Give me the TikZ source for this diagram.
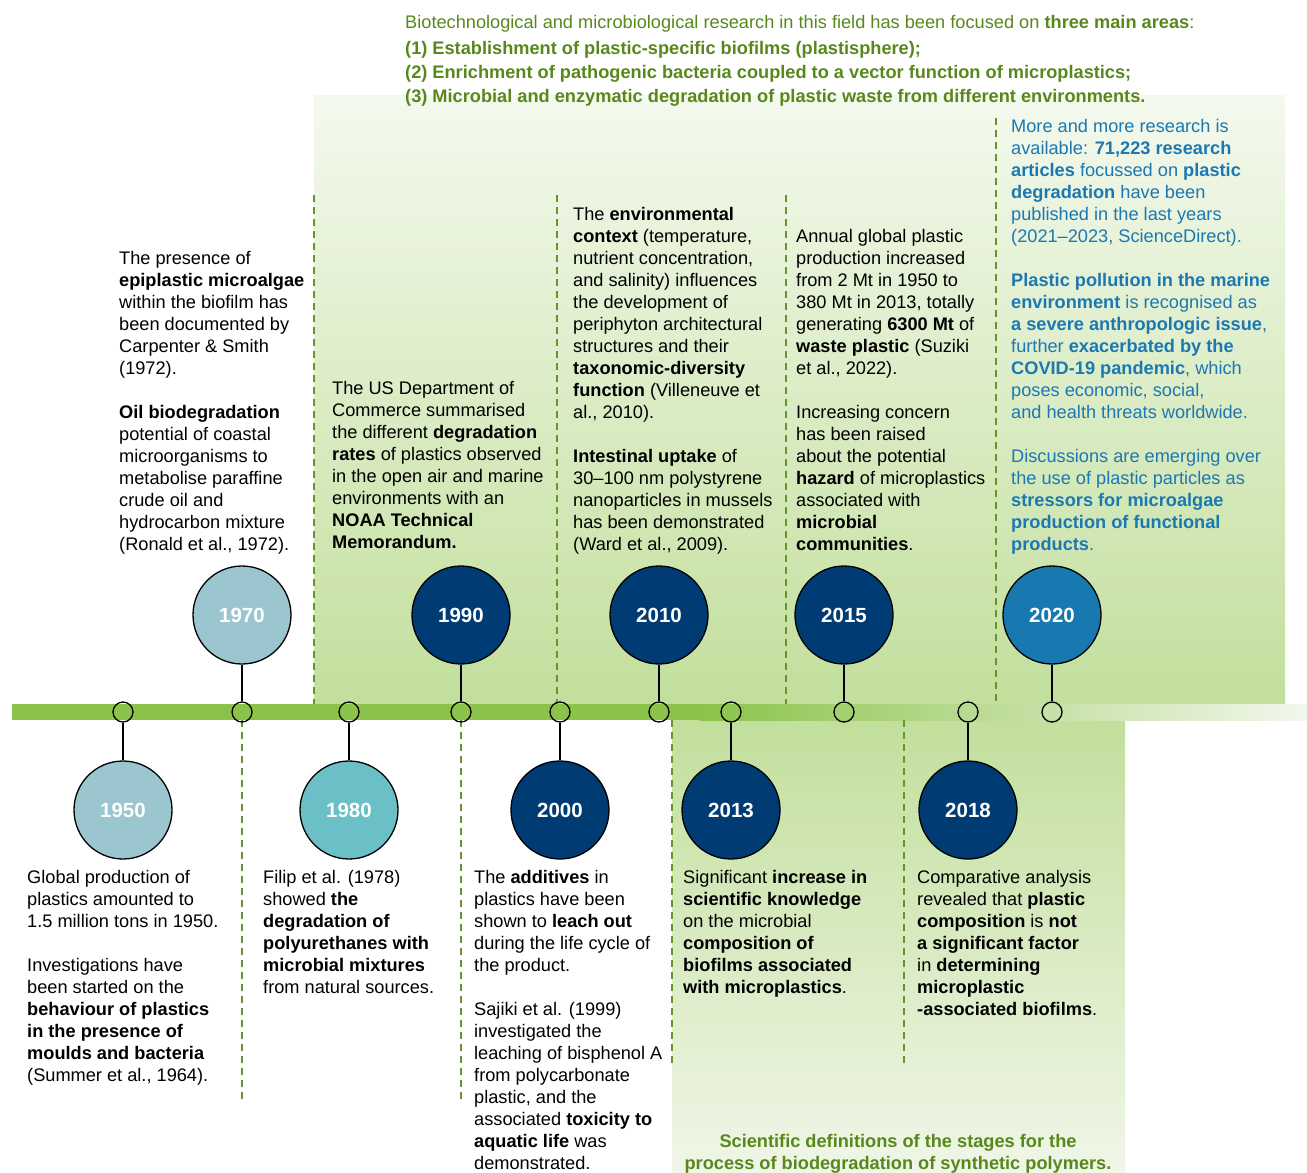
\documentclass[tikz,border=0pt]{standalone}
\usepackage{fontspec}
\setmainfont{Liberation Sans}
\definecolor{bargreen}{RGB}{139,195,74}
\definecolor{barend}{RGB}{242,247,236}
\definecolor{midgreen}{RGB}{194,223,156}
\definecolor{toplight}{RGB}{244,249,238}
\definecolor{botlight}{RGB}{240,246,232}
\definecolor{dgreen}{RGB}{104,148,44}
\definecolor{hdrgreen}{RGB}{88,136,28}
\definecolor{txtblue}{RGB}{28,120,178}
\definecolor{clight}{RGB}{156,198,207}
\definecolor{cteal}{RGB}{107,191,198}
\definecolor{cnavy}{RGB}{0,59,115}
\definecolor{cblue}{RGB}{24,120,176}
\begin{document}
\begin{tikzpicture}[x=1pt,y=-1pt,
  txt/.style={anchor=north west, inner sep=0pt, align=left, font=\fontsize{18.2}{22}\selectfont},
  yr/.style={circle, draw=black, line width=1.3pt, minimum size=98pt, inner sep=0pt, text=white, font=\fontsize{20.5}{24}\selectfont\bfseries},
  tick/.style={circle, draw=black, line width=1.3pt, minimum size=20pt, inner sep=0pt},
  conn/.style={line width=2pt, draw=black},
  dashln/.style={draw=dgreen, line width=1.6pt, dash pattern=on 7pt off 5pt}]
\useasboundingbox (0,0) rectangle (1307,1173);
% backgrounds
\shade[top color=toplight, bottom color=midgreen] (314,95) rectangle (1285,704);
\shade[top color=midgreen, bottom color=botlight] (672,720) rectangle (1125,1173);
% timeline bar
\fill[bargreen] (12,704) rectangle (700,720);
\shade[left color=bargreen, right color=barend] (699.5,704) rectangle (1307,720);
% dashed separators
\draw[dashln] (314,195) -- (314,704);
\draw[dashln] (557,195) -- (557,704);
\draw[dashln] (786,195) -- (786,704);
\draw[dashln] (996,118) -- (996,704);
\draw[dashln] (242,720) -- (242,1103);
\draw[dashln] (461,720) -- (461,1100);
\draw[dashln] (672,720) -- (672,1065);
\draw[dashln] (904,720) -- (904,1065);
% ticks
\node[tick] (d1950) at (123,712) {};
\node[tick] (d1970) at (242,712) {};
\node[tick] (d1980) at (349,712) {};
\node[tick] (d1990) at (461,712) {};
\node[tick] (d2000) at (560,712) {};
\node[tick] (d2010) at (659,712) {};
\node[tick] (d2013) at (731,712) {};
\node[tick] (d2015) at (844,712) {};
\node[tick] (d2018) at (968,712) {};
\node[tick] (d2020) at (1052,712) {};
% year circles
\node[yr, fill=clight] (y1950) at (123,810) {1950};
\node[yr, fill=clight] (y1970) at (242,615) {1970};
\node[yr, fill=cteal] (y1980) at (349,810) {1980};
\node[yr, fill=cnavy] (y1990) at (461,615) {1990};
\node[yr, fill=cnavy] (y2000) at (560,810) {2000};
\node[yr, fill=cnavy] (y2010) at (659,615) {2010};
\node[yr, fill=cnavy] (y2013) at (731,810) {2013};
\node[yr, fill=cnavy] (y2015) at (844,615) {2015};
\node[yr, fill=cnavy] (y2018) at (968,810) {2018};
\node[yr, fill=cblue] (y2020) at (1052,615) {2020};
\foreach \y in {1950,1970,1980,1990,2000,2010,2013,2015,2018,2020}
  \draw[conn] (y\y) -- (d\y);
% header
\node[txt, text=hdrgreen, font=\fontsize{18.2}{24}\selectfont] (hdr) at (405,11) {\strut Biotechnological and microbiological research in this field has been focused on \textbf{three main areas}:\\[2pt]
\textbf{(1) Establishment of plastic-specific biofilms (plastisphere);}\\
\textbf{(2) Enrichment of pathogenic bacteria coupled to a vector function of microplastics;}\\
\textbf{(3) Microbial and enzymatic degradation of plastic waste from different environments.}};
% upper texts
\node[txt] (t1970) at (119,249) {\strut The presence of\\
\textbf{epiplastic microalgae}\\
within the biofilm has\\
been documented by\\
Carpenter \& Smith\\
(1972).\\[22pt]
\textbf{Oil biodegradation}\\
potential of coastal\\
microorganisms to\\
metabolise paraffine\\
crude oil and\\
hydrocarbon mixture\\
(Ronald et al., 1972).};
\node[txt] (t1990) at (332,379) {\strut The US Department of\\
Commerce summarised\\
the different \textbf{degradation}\\
\textbf{rates} of plastics observed\\
in the open air and marine\\
environments with an\\
\textbf{NOAA Technical}\\
\textbf{Memorandum.}};
\node[txt] (t2010) at (573,205) {\strut The \textbf{environmental}\\
\textbf{context} (temperature,\\
nutrient concentration,\\
and salinity) influences\\
the development of\\
periphyton architectural\\
structures and their\\
\textbf{taxonomic-diversity}\\
\textbf{function} (Villeneuve et\\
al., 2010).\\[22pt]
\textbf{Intestinal uptake} of\\
30--100 nm polystyrene\\
nanoparticles in mussels\\
has been demonstrated\\
(Ward et al., 2009).};
\node[txt] (t2015) at (796,227) {\strut Annual global plastic\\
production increased\\
from 2 Mt in 1950 to\\
380 Mt in 2013, totally\\
generating \textbf{6300 Mt} of\\
\textbf{waste plastic} (Suziki\\
et al., 2022).\\[22pt]
Increasing concern\\
has been raised\\
about the potential\\
\textbf{hazard} of microplastics\\
associated with\\
\textbf{microbial}\\
\textbf{communities}.};
\node[txt, text=txtblue] (t2020) at (1011,117) {\strut More and more research is\\
available: \textbf{71,223 research}\\
\textbf{articles} focussed on \textbf{plastic}\\
\textbf{degradation} have been\\
published in the last years\\
(2021--2023, ScienceDirect).\\[22pt]
\textbf{Plastic pollution in the marine}\\
\textbf{environment} is recognised as\\
\textbf{a severe anthropologic issue},\\
further \textbf{exacerbated by the}\\
\textbf{COVID-19 pandemic}, which\\
poses economic, social,\\
and health threats worldwide.\\[22pt]
Discussions are emerging over\\
the use of plastic particles as\\
\textbf{stressors for microalgae}\\
\textbf{production of functional}\\
\textbf{products}.};
% lower texts
\node[txt] (t1950) at (27,868) {\strut Global production of\\
plastics amounted to\\
1.5 million tons in 1950.\\[22pt]
Investigations have\\
been started on the\\
\textbf{behaviour of plastics}\\
\textbf{in the presence of}\\
\textbf{moulds and bacteria}\\
(Summer et al., 1964).};
\node[txt] (t1980) at (263,868) {\strut Filip et al. (1978)\\
showed \textbf{the}\\
\textbf{degradation of}\\
\textbf{polyurethanes with}\\
\textbf{microbial mixtures}\\
from natural sources.};
\node[txt] (t2000) at (474,868) {\strut The \textbf{additives} in\\
plastics have been\\
shown to \textbf{leach out}\\
during the life cycle of\\
the product.\\[22pt]
Sajiki et al. (1999)\\
investigated the\\
leaching of bisphenol A\\
from polycarbonate\\
plastic, and the\\
associated \textbf{toxicity to}\\
\textbf{aquatic life} was\\
demonstrated.};
\node[txt] (t2013) at (683,868) {\strut Significant \textbf{increase in}\\
\textbf{scientific knowledge}\\
on the microbial\\
\textbf{composition of}\\
\textbf{biofilms associated}\\
\textbf{with microplastics}.};
\node[txt] (t2018) at (917,868) {\strut Comparative analysis\\
revealed that \textbf{plastic}\\
\textbf{composition} is \textbf{not}\\
\textbf{a significant factor}\\
in \textbf{determining}\\
\textbf{microplastic}\\
\textbf{-associated biofilms}.};
\node[anchor=north, inner sep=0pt, align=center, text=hdrgreen, font=\fontsize{18.2}{22}\selectfont\bfseries] (cap) at (898,1132) {\strut Scientific definitions of the stages for the\\
process of biodegradation of synthetic polymers.};
\end{tikzpicture}
\end{document}
